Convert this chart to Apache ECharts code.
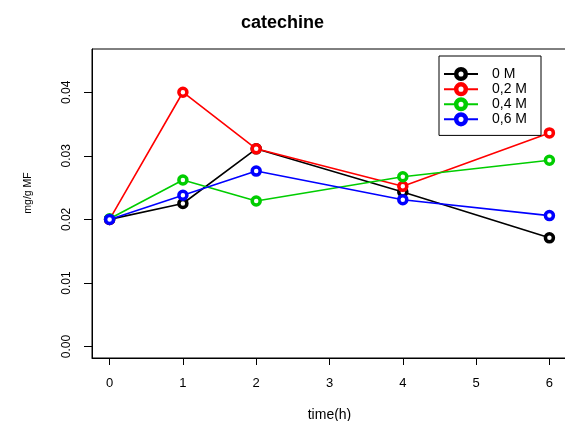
<!DOCTYPE html>
<html>
<head>
<meta charset="utf-8">
<script src="https://cdn.jsdelivr.net/npm/echarts@6/dist/echarts.min.js"></script>
<style>html,body{margin:0;padding:0;background:#fff}#c{width:565px;height:421px}</style>
</head>
<body>
<div id="c"></div>
<script>
const times = [0, 1, 2, 4, 6];
const seriesNames = ['0 M', '0,2 M', '0,4 M', '0,6 M'];
const v0M  = [0.0200, 0.0225, 0.0311, 0.0243, 0.0171];
const v02M = [0.0200, 0.0400, 0.0311, 0.0252, 0.0336];
const v04M = [0.0201, 0.0262, 0.0229, 0.0267, 0.0293];
const v06M = [0.0200, 0.0238, 0.0276, 0.0231, 0.0206];
const xTicks = [0, 1, 2, 3, 4, 5, 6];
const yTicks = [0.00, 0.01, 0.02, 0.03, 0.04];
const colors = ['#000000', '#FF0000', '#00CD00', '#0000FF'];
const values = [v0M, v02M, v04M, v06M];

const FONT = '"Liberation Sans", Arial, Helvetica, sans-serif';
const chart = echarts.init(document.getElementById('c'), null, {renderer: 'canvas'});

const series = values.map((vals, i) => ({
  name: seriesNames[i],
  type: 'line',
  data: vals.map((v, j) => [times[j], v]),
  symbol: 'circle',
  symbolSize: 8,
  showSymbol: true,
  lineStyle: {color: colors[i], width: 1.6},
  itemStyle: {color: '#ffffff', borderColor: colors[i], borderWidth: 3.5},
  emphasis: {disabled: true},
  animation: false,
  z: 2 + i
}));

chart.setOption({
  animation: false,
  backgroundColor: '#ffffff',
  title: {
    text: 'catechine',
    left: 'center',
    top: 9,
    textStyle: {fontFamily: FONT, fontWeight: 'bold', fontSize: 18, color: '#000'}
  },
  grid: {
    left: 92, top: 49, width: 475, height: 309,
    outerBoundsMode: 'none',
    containLabel: false,
    show: true, borderColor: '#000', borderWidth: 1, backgroundColor: 'transparent'
  },
  legend: {
    data: seriesNames,
    orient: 'vertical',
    left: 439,
    top: 56,
    itemWidth: 34,
    itemHeight: 12,
    itemGap: 1,
    padding: [11, 14, 9, 4],
    borderColor: '#000',
    borderWidth: 1,
    backgroundColor: '#fff',
    itemStyle: {borderWidth: 4.5},
    textStyle: {fontFamily: FONT, fontSize: 14, lineHeight: 14, color: '#000', padding: [0, 0, 0, 9]},
    selectedMode: false
  },
  xAxis: {
    type: 'value',
    min: -0.24,
    max: 6.24,
    name: 'time(h)',
    nameLocation: 'middle',
    nameGap: 50,
    nameTextStyle: {fontFamily: FONT, fontSize: 14, color: '#000'},
    axisLine: {show: true, onZero: false, lineStyle: {color: '#000', width: 1}},
    axisTick: {show: true, length: 7, inside: false, customValues: xTicks, lineStyle: {color: '#000'}},
    axisLabel: {show: true, margin: 19, customValues: xTicks, fontFamily: FONT, fontSize: 13, color: '#000',
      formatter: v => String(Math.round(v))},
    splitLine: {show: false}
  },
  yAxis: {
    type: 'value',
    min: -0.0018,
    max: 0.0468,
    axisLine: {show: true, onZero: false, lineStyle: {color: '#000', width: 1}},
    axisTick: {show: true, length: 8, inside: false, customValues: yTicks, lineStyle: {color: '#000'}},
    axisLabel: {show: true, rotate: 90, margin: 19, customValues: yTicks, fontFamily: FONT, fontSize: 12, color: '#000',
      formatter: v => v.toFixed(2)},
    splitLine: {show: false}
  },
  graphic: [{
    type: 'text',
    x: 28,
    y: 193,
    rotation: Math.PI / 2,
    style: {text: 'mg/g MF', fontFamily: FONT, fontSize: 10.5, fill: '#000', align: 'center', verticalAlign: 'middle'}
  }],
  series: series
});
</script>
</body>
</html>
